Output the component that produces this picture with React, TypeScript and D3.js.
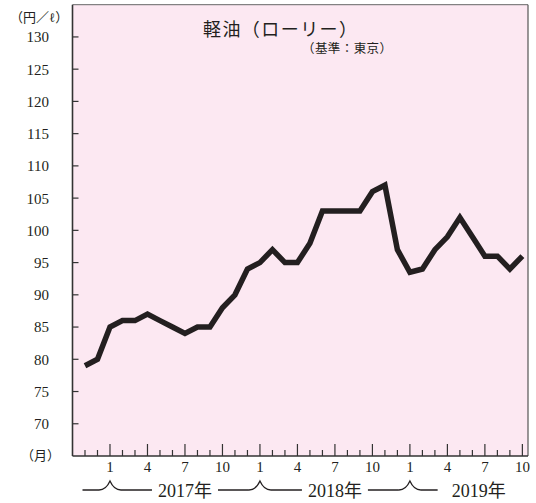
import * as d3 from "d3";

// 2016/11 .. 2019/10, monthly price (円/ℓ)
const months = [
  "2016-11", "2016-12",
  "2017-01", "2017-02", "2017-03", "2017-04", "2017-05", "2017-06",
  "2017-07", "2017-08", "2017-09", "2017-10", "2017-11", "2017-12",
  "2018-01", "2018-02", "2018-03", "2018-04", "2018-05", "2018-06",
  "2018-07", "2018-08", "2018-09", "2018-10", "2018-11", "2018-12",
  "2019-01", "2019-02", "2019-03", "2019-04", "2019-05", "2019-06",
  "2019-07", "2019-08", "2019-09", "2019-10",
];
const prices = [
  79, 80,
  85, 86, 86, 87, 86, 85, 84, 85, 85, 88, 90, 94,
  95, 97, 95, 95, 98, 103, 103, 103, 103, 106, 107, 97,
  93.5, 94, 97, 99, 102, 99, 96, 96, 94, 96,
];
const yTicks = [70, 75, 80, 85, 90, 95, 100, 105, 110, 115, 120, 125, 130];
const monthLabels = ["1", "4", "7", "10"];
const years = ["2017年", "2018年", "2019年"];

const W = 536;
const H = 503;
const SERIF = "'Liberation Serif', 'Noto Sans CJK JP', serif";
const SANS = "'Noto Sans CJK JP', sans-serif";

export default function App() {
  // index 0 = 2016/10 (left axis)
  const x = d3.scaleLinear().domain([0, 36.45]).range([72.5, 528]);
  const y = d3.scaleLinear().domain([65, 135]).range([456, 4.7]);

  const line = d3
    .line<number>()
    .x((_, i) => x(i + 1))
    .y((d) => y(d));

  const tickIdx = d3.range(1, 37);
  const x0 = x(0);
  const x1 = x.range()[1];
  const yTop = y(135);
  const yBot = y(65);

  const braceY = 490;
  const janIdx = [3, 15, 27];
  const yearCenters = [x(9), x(21), x(32.5)];
  const yearHalf = [32, 32, 40];

  // segments of the year line, with gaps for the year text
  const segs: [number, number][] = [];
  let start = x(0.8);
  yearCenters.forEach((c, k) => {
    segs.push([start, c - yearHalf[k] - 1]);
    start = c + yearHalf[k] + 1;
  });

  const brace = (bx: number) =>
    `M${bx - 11},${braceY} Q${bx - 4},${braceY} ${bx},${braceY - 9} Q${bx + 4},${braceY} ${bx + 11},${braceY}`;

  return (
    <svg width={W} height={H} style={{ position: "absolute", left: 0, top: 0 }}>
      <rect x={0} y={0} width={W} height={H} fill="#fff" />
      <rect x={x0} y={yTop} width={x1 - x0} height={yBot - yTop} fill="#fce8f2" />
      {/* frame */}
      <line x1={x0} x2={x1} y1={yTop} y2={yTop} stroke="#666" strokeWidth={1} />
      <line x1={x1} x2={x1} y1={yTop} y2={yBot} stroke="#555" strokeWidth={1.2} />
      <line x1={x0} x2={x0} y1={yTop} y2={yBot} stroke="#333" strokeWidth={1.6} />
      <line x1={x0} x2={x1} y1={yBot} y2={yBot} stroke="#333" strokeWidth={1.6} />

      {/* y ticks */}
      {yTicks.map((t) => (
        <g key={"y" + t}>
          <line x1={x0} x2={x0 + 6} y1={y(t)} y2={y(t)} stroke="#333" strokeWidth={1.2} />
          <text
            x={49}
            y={y(t)}
            dy="0.36em"
            textAnchor="end"
            fontFamily={SERIF}
            fontSize={15}
            fill="#231f20"
          >
            {t}
          </text>
        </g>
      ))}

      {/* x ticks */}
      {tickIdx.map((i) => {
        const major = i % 3 === 0;
        return (
          <line
            key={"x" + i}
            x1={x(i)}
            x2={x(i)}
            y1={yBot}
            y2={yBot - (major ? 12 : 6)}
            stroke="#333"
            strokeWidth={1.2}
          />
        );
      })}
      {tickIdx
        .filter((i) => i % 3 === 0)
        .map((i) => (
          <text
            key={"xl" + i}
            x={x(i)}
            y={472}
            textAnchor="middle"
            fontFamily={SERIF}
            fontSize={15}
            fill="#231f20"
          >
            {monthLabels[(i / 3 - 1) % 4]}
          </text>
        ))}

      {/* year row */}
      {segs.map(([a, b], k) => (
        <line key={"s" + k} x1={a} x2={b} y1={braceY} y2={braceY} stroke="#231f20" strokeWidth={1.3} />
      ))}
      {janIdx.map((i) => (
        <g key={"b" + i}>
          <rect x={x(i) - 11} y={braceY - 3} width={22} height={6} fill="#fff" />
          <path d={brace(x(i))} fill="none" stroke="#231f20" strokeWidth={1.3} />
        </g>
      ))}
      {years.map((yr, k) => (
        <text
          key={yr}
          x={yearCenters[k]}
          y={497}
          textAnchor="middle"
          fontFamily={SERIF}
          fontSize={18}
          fill="#231f20"
        >
          {yr}
        </text>
      ))}

      {/* units */}
      <text x={10} y={22} fontFamily={SERIF} fontSize={13} fill="#231f20">
        （円／ℓ）
      </text>
      <text x={21} y={460} fontFamily={SERIF} fontSize={13} fill="#231f20">
        （月）
      </text>

      {/* title */}
      <text x={203} y={36} fontFamily={SANS} fontSize={18} fill="#231f20" textLength={154} lengthAdjust="spacing">
        軽油（ローリー）
      </text>
      <text x={302} y={53} fontFamily={SERIF} fontSize={12.5} fill="#231f20" textLength={90} lengthAdjust="spacing">
        （基準：東京）
      </text>

      {/* series */}
      <path
        d={line(prices) ?? ""}
        fill="none"
        stroke="#231f20"
        strokeWidth={5.5}
        strokeLinejoin="miter"
        strokeLinecap="butt"
      />
    </svg>
  );
}
